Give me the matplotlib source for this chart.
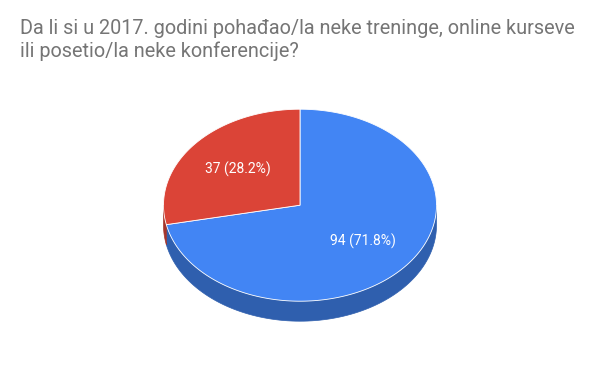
import numpy as np
import matplotlib.pyplot as plt
from matplotlib.patches import Polygon

# Data
labels = ["Da", "Ne"]
values = [94, 37]
colors = ["#4285f4", "#db4437"]
side_colors = ["#2f5fae", "#a5352b"]
title = "Da li si u 2017. godini pohađao/la neke treninge, online kurseve\nili posetio/la neke konferencije?"

plt.rcParams['font.family'] = ['Roboto', 'DejaVu Sans']

fig = plt.figure(figsize=(6, 3.71), dpi=100)
ax = fig.add_axes([0, 0, 1, 1])
ax.set_xlim(0, 600)
ax.set_ylim(371, 0)
ax.axis("off")

# pie geometry (pixels)
cx, cy, rx, ry, depth = 300, 205.2, 136.5, 96, 20

def pt(t, r=1.0, dz=0.0):
    # t: degrees clockwise from top
    a = np.radians(t)
    return cx + r * rx * np.sin(a), cy - r * ry * np.cos(a) + dz

total = sum(values)
angles = np.cumsum([0] + [v / total * 360 for v in values])

# side walls (front half only)
for i in range(len(values)):
    a0, a1 = max(angles[i], 90), min(angles[i + 1], 270)
    if a1 <= a0:
        continue
    ts = np.linspace(a0, a1, 100)
    top = [pt(t) for t in ts]
    bot = [pt(t, dz=depth) for t in ts[::-1]]
    ax.add_patch(Polygon(top + bot, closed=True, facecolor=side_colors[i],
                         edgecolor=side_colors[i], lw=0.5, zorder=1))

# top faces
for i in range(len(values)):
    ts = np.linspace(angles[i], angles[i + 1], 200)
    verts = [(cx, cy)] + [pt(t) for t in ts]
    ax.add_patch(Polygon(verts, closed=True, facecolor=colors[i],
                         edgecolor="white", lw=0.6, zorder=2))
    mid = (angles[i] + angles[i + 1]) / 2
    lx, ly = pt(mid, r=0.59)
    ax.text(lx, ly, f"{values[i]} ({values[i] / total * 100:.1f}%)",
            color="white", fontsize=10, ha="center", va="center", zorder=3)

fig.text(20 / 600, 1 - 19 / 371, title, color="#757575", fontsize=14.3,
         ha="left", va="top", linespacing=1.2)

fig.savefig("out.png", dpi=100, facecolor="white")
